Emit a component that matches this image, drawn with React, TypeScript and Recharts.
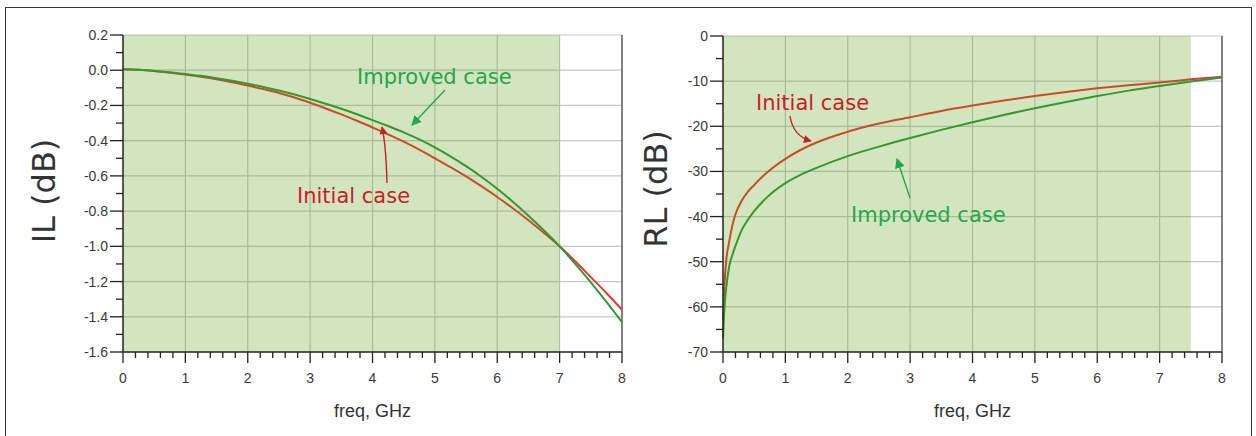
import { LineChart, Line, XAxis, YAxis, CartesianGrid, ReferenceArea, ReferenceLine } from "recharts";

// Insertion loss (left panel), every 0.25 GHz.
const IL_FREQ = [0, 0.25, 0.5, 0.75, 1, 1.25, 1.5, 1.75, 2, 2.25, 2.5, 2.75, 3, 3.25, 3.5, 3.75, 4, 4.25, 4.5, 4.75, 5, 5.25, 5.5, 5.75, 6, 6.25, 6.5, 6.75, 7, 7.25, 7.5, 7.75, 8];
const IL_INITIAL = [0.005, 0.002, -0.005, -0.014, -0.025, -0.037, -0.051, -0.068, -0.087, -0.107, -0.129, -0.155, -0.185, -0.217, -0.251, -0.287, -0.325, -0.364, -0.406, -0.451, -0.5, -0.55, -0.603, -0.66, -0.72, -0.784, -0.852, -0.924, -1.0, -1.085, -1.175, -1.265, -1.36];
const IL_IMPROVED = [0.005, 0.003, -0.004, -0.012, -0.022, -0.032, -0.045, -0.06, -0.077, -0.095, -0.115, -0.138, -0.163, -0.19, -0.219, -0.25, -0.283, -0.317, -0.353, -0.393, -0.438, -0.489, -0.545, -0.606, -0.673, -0.747, -0.826, -0.91, -1.0, -1.1, -1.205, -1.315, -1.43];

// Return loss (right panel), denser near DC where it climbs fast.
const RL_FREQ = [0, 0.02, 0.05, 0.1, 0.15, 0.2, 0.3, 0.4, 0.5, 0.7, 1, 1.25, 1.5, 2, 2.5, 3, 3.5, 4, 4.5, 5, 5.5, 6, 6.5, 7, 7.5, 8];
const RL_INITIAL = [-63, -56, -50, -45.5, -42, -39.5, -36.5, -34.5, -33, -30.3, -27.2, -25.2, -23.6, -21.2, -19.4, -18.0, -16.6, -15.4, -14.3, -13.3, -12.4, -11.6, -10.9, -10.3, -9.6, -9.0];
const RL_IMPROVED = [-67, -61, -56, -51, -48.5, -46.5, -43, -40.7, -38.8, -35.8, -32.6, -30.7, -29.2, -26.6, -24.5, -22.6, -20.8, -19.1, -17.5, -16.0, -14.6, -13.3, -12.1, -11.1, -10.1, -9.2];

// Axis ticks: majors carry labels, minors are short marks only.
const FREQ_TICKS = Array.from({ length: 41 }, (_, i) => i / 5);
const FREQ_GRID = [1, 2, 3, 4, 5, 6, 7];
const IL_TICKS = Array.from({ length: 19 }, (_, i) => Math.round(2 - i) / 10);
const IL_GRID = [0.2, 0, -0.2, -0.4, -0.6, -0.8, -1.0, -1.2, -1.4];
const RL_TICKS = Array.from({ length: 15 }, (_, i) => -5 * i);
const RL_GRID = [0, -10, -20, -30, -40, -50, -60];

const RED = "#f03434";
const GREEN = "#2a9a3c";
const RED_TEXT = "#c81e28";
const GREEN_TEXT = "#21a84a";
const SHADE = "#4f9700";
const GRID = "#c8c8c8";
const INK = "#222";
const LABEL_INK = "#3a3a3a";
const SANS = "'Liberation Sans', Arial, Helvetica, sans-serif";
const VERDANA = "'DejaVu Sans', Verdana, sans-serif";

const ilData = IL_FREQ.map((f, i) => ({ f, init: IL_INITIAL[i], imp: IL_IMPROVED[i] }));
const rlData = RL_FREQ.map((f, i) => ({ f, init: RL_INITIAL[i], imp: RL_IMPROVED[i] }));

const isInt = (v: number) => Math.abs(v - Math.round(v)) < 1e-6;

function FreqTick({ x, y, payload }: any) {
  const v = Number(payload.value);
  const major = isInt(v);
  return (
    <g>
      <line x1={x} x2={x} y1={y} y2={y + (major ? 11 : 6)} stroke={INK} strokeWidth={1.3} />
      {major && (
        <text x={x} y={y + 31} textAnchor="middle" fontSize={14} fill={LABEL_INK} fontFamily={SANS}>
          {Math.round(v)}
        </text>
      )}
    </g>
  );
}

function makeYTick(isMajor: (v: number) => boolean, fmt: (v: number) => string) {
  return function YTick({ x, y, payload }: any) {
    const v = Number(payload.value);
    const major = isMajor(v);
    return (
      <g>
        <line x1={x - (major ? 13 : 7)} x2={x} y1={y} y2={y} stroke={INK} strokeWidth={1.3} />
        {major && (
          <text x={x - 15} y={y + 5} textAnchor="end" fontSize={14} fill={LABEL_INK} fontFamily={SANS}>
            {fmt(v)}
          </text>
        )}
      </g>
    );
  };
}

const IlTick = makeYTick((v) => isInt(v * 5), (v) => v.toFixed(1));
const RlTick = makeYTick((v) => isInt(v / 10), (v) => String(v));

function Panel({
  data,
  yDomain,
  yTicks,
  yGrid,
  YTick,
  shadeTo,
  margin,
  yWidth,
  width,
}: {
  data: { f: number; init: number; imp: number }[];
  yDomain: [number, number];
  yTicks: number[];
  yGrid: number[];
  YTick: any;
  shadeTo: number;
  margin: { top: number; right: number; bottom: number; left: number };
  yWidth: number;
  width: number;
}) {
  return (
    <LineChart width={width} height={436} data={data} margin={margin}>
      <CartesianGrid stroke={GRID} strokeWidth={1.2} horizontalValues={yGrid} verticalValues={FREQ_GRID} />
      <XAxis
        dataKey="f"
        type="number"
        domain={[0, 8]}
        ticks={FREQ_TICKS}
        interval={0}
        tick={<FreqTick />}
        tickLine={false}
        tickSize={0}
        tickMargin={0}
        height={64}
        axisLine={{ stroke: INK, strokeWidth: 1.5 }}
      />
      <YAxis
        type="number"
        domain={yDomain}
        ticks={yTicks}
        interval={0}
        tick={<YTick />}
        tickLine={false}
        tickSize={0}
        tickMargin={0}
        width={yWidth}
        axisLine={{ stroke: INK, strokeWidth: 1.5 }}
      />
      <ReferenceLine x={8} stroke="#5a5a5a" strokeWidth={1.5} />
      <Line type="monotone" dataKey="init" stroke={RED} strokeWidth={2} dot={false} isAnimationActive={false} />
      <Line type="monotone" dataKey="imp" stroke={GREEN} strokeWidth={2} dot={false} isAnimationActive={false} />
      <ReferenceArea
        x1={0}
        x2={shadeTo}
        y1={yDomain[0]}
        y2={yDomain[1]}
        fill={SHADE}
        fillOpacity={0.25}
        stroke="none"
        zIndex={450}
      />
    </LineChart>
  );
}

function Notes() {
  const head = (id: string, color: string, size: number) => (
    <marker id={id} viewBox="0 0 10 10" refX={9} refY={5} markerWidth={size} markerHeight={size} markerUnits="userSpaceOnUse" orient="auto">
      <path d="M0,0 L10,5 L0,10 z" fill={color} />
    </marker>
  );
  return (
    <svg width={1256} height={436} style={{ position: "absolute", left: 0, top: 0, pointerEvents: "none" }}>
      <defs>
        {head("hg", GREEN_TEXT, 10)}
        {head("hr", RED_TEXT, 8)}
      </defs>
      {/* axis titles */}
      <text transform="translate(55,191) rotate(-90)" textAnchor="middle" fontSize={32} fill="#333" fontFamily={VERDANA}>IL (dB)</text>
      <text transform="translate(667,189) rotate(-90)" textAnchor="middle" fontSize={32} fill="#333" fontFamily={VERDANA}>RL (dB)</text>
      <text x={372.5} y={417} textAnchor="middle" fontSize={18} fill="#333" fontFamily={SANS}>freq, GHz</text>
      <text x={972.5} y={417} textAnchor="middle" fontSize={18} fill="#333" fontFamily={SANS}>freq, GHz</text>

      {/* left panel call-outs */}
      <text x={357} y={84} fontSize={21} fill={GREEN_TEXT} fontFamily={VERDANA}>Improved case</text>
      <path d="M445,90 L412,125" stroke={GREEN_TEXT} strokeWidth={1.4} fill="none" markerEnd="url(#hg)" />
      <text x={297} y={203} fontSize={21} fill={RED_TEXT} fontFamily={VERDANA}>Initial case</text>
      <path d="M387,183 Q386,145 382,127" stroke={RED_TEXT} strokeWidth={1.4} fill="none" markerEnd="url(#hr)" />

      {/* right panel call-outs */}
      <text x={756} y={110} fontSize={21} fill={RED_TEXT} fontFamily={VERDANA}>Initial case</text>
      <path d="M790,116 Q793,136 811,141" stroke={RED_TEXT} strokeWidth={1.4} fill="none" markerEnd="url(#hr)" />
      <text x={851} y={222} fontSize={21} fill={GREEN_TEXT} fontFamily={VERDANA}>Improved case</text>
      <path d="M910,198 L897,159" stroke={GREEN_TEXT} strokeWidth={1.4} fill="none" markerEnd="url(#hg)" />
    </svg>
  );
}

export default function App() {
  return (
    <div style={{ position: "absolute", left: 0, top: 0, width: 1256, height: 436, background: "#fff", overflow: "hidden", fontFamily: SANS }}>
      <div style={{ position: "absolute", left: 5, top: 7, width: 1245, height: 440, border: "1.5px solid #333" }} />
      <div style={{ position: "absolute", left: 0, top: 0 }}>
        <Panel
          data={ilData}
          yDomain={[-1.6, 0.2]}
          yTicks={IL_TICKS}
          yGrid={IL_GRID}
          YTick={IlTick}
          shadeTo={7}
          margin={{ top: 35, right: 18, bottom: 20, left: 10 }}
          yWidth={113}
          width={640}
        />
      </div>
      <div style={{ position: "absolute", left: 640, top: 0 }}>
        <Panel
          data={rlData}
          yDomain={[-70, 0]}
          yTicks={RL_TICKS}
          yGrid={RL_GRID}
          YTick={RlTick}
          shadeTo={7.5}
          margin={{ top: 36, right: 34, bottom: 20, left: 10 }}
          yWidth={73}
          width={616}
        />
      </div>
      <Notes />
    </div>
  );
}
